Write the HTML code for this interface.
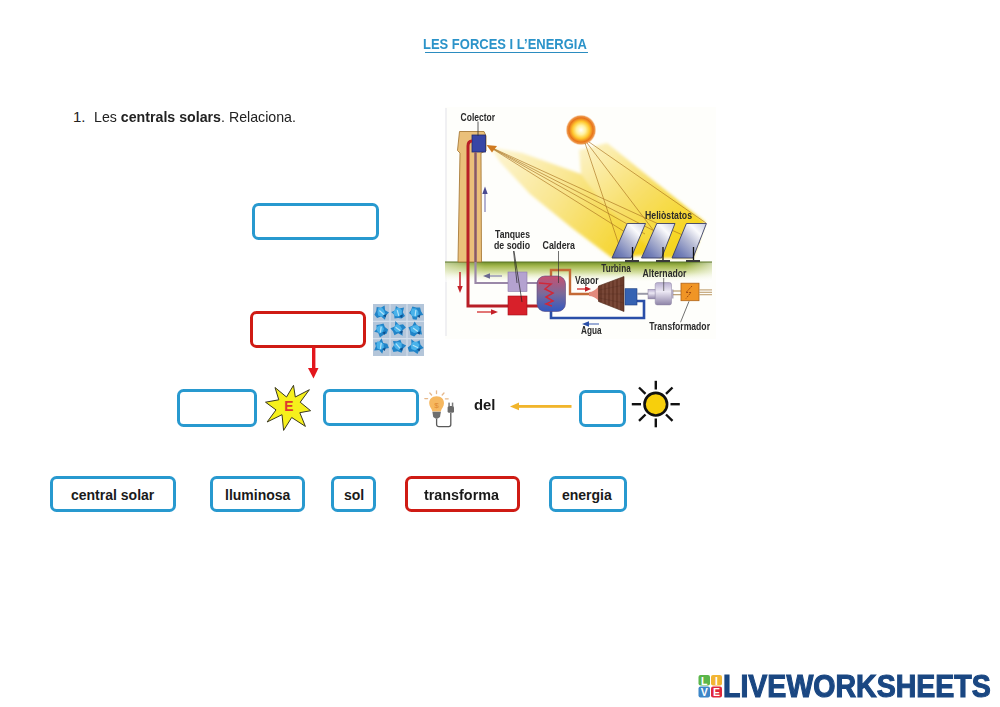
<!DOCTYPE html>
<html><head><meta charset="utf-8">
<style>
html,body{margin:0;padding:0;background:#fff;}
body{width:1000px;height:707px;position:relative;overflow:hidden;font-family:"Liberation Sans",sans-serif;}
.a{position:absolute;}
.bx{position:absolute;box-sizing:border-box;border:3px solid #2899cf;border-radius:6.5px;background:#fff;}
.rd{border-color:#cf1b14;}
.t{position:absolute;white-space:nowrap;transform-origin:0 0;line-height:1;}
.w{font-weight:bold;color:#1a1a1a;}
</style></head>
<body>
<div class="t" id="title" style="left:423px;top:36.2px;font-size:15.5px;font-weight:bold;color:#2b93c9;transform:scaleX(0.838);">LES FORCES I L’ENERGIA</div>
<div class="a" id="ul" style="left:424.5px;top:51.6px;width:163px;height:1.2px;background:#2b8cc0;"></div>
<div class="t" id="l1" style="left:73px;top:109px;font-size:15px;color:#222;">1.</div>
<div class="t" id="l2" style="left:94px;top:109px;font-size:15px;color:#222;transform:scaleX(0.946);">Les <b>centrals solars</b>. Relaciona.</div>

<div class="bx" style="left:252px;top:202.5px;width:126.5px;height:37.5px;"></div>
<div class="bx rd" style="left:250px;top:311px;width:116px;height:37px;"></div>
<div class="bx" style="left:177px;top:389px;width:80px;height:37.5px;"></div>
<div class="bx" style="left:323px;top:389px;width:96px;height:37px;"></div>
<div class="bx" style="left:579px;top:390px;width:47px;height:37px;"></div>

<div class="t w" id="del" style="left:474px;top:398px;font-size:14px;transform:scaleX(1.06);">del</div>

<div class="bx" style="left:50px;top:475.5px;width:126px;height:36px;"></div>
<div class="bx" style="left:210px;top:475.5px;width:95px;height:36px;"></div>
<div class="bx" style="left:331px;top:475.5px;width:45px;height:36px;"></div>
<div class="bx rd" style="left:405px;top:475.5px;width:115px;height:36px;"></div>
<div class="bx" style="left:549px;top:475.5px;width:78px;height:36px;"></div>

<div class="t w" id="w1" style="left:71px;top:488px;font-size:14px;">central solar</div>
<div class="t w" id="w2" style="left:225px;top:488px;font-size:14px;">lluminosa</div>
<div class="t w" id="w3" style="left:344px;top:488px;font-size:14px;">sol</div>
<div class="t w" id="w4" style="left:424px;top:488px;font-size:14px;transform:scaleX(1.025);">transforma</div>
<div class="t w" id="w5" style="left:562px;top:488px;font-size:14px;">energia</div>


<svg class="a" style="left:0;top:0" width="1000" height="707" viewBox="0 0 1000 707">
<defs>
 <linearGradient id="gnd" x1="0" y1="0" x2="0" y2="1">
  <stop offset="0" stop-color="#72902c"/><stop offset="0.2" stop-color="#a4b84e"/><stop offset="0.55" stop-color="#d8e2a8"/><stop offset="1" stop-color="#fcfcf4" stop-opacity="0"/>
 </linearGradient>
 <linearGradient id="gndx" x1="0" y1="0" x2="1" y2="0">
  <stop offset="0" stop-color="#fff" stop-opacity="0.5"/><stop offset="0.15" stop-color="#fff" stop-opacity="0"/><stop offset="0.9" stop-color="#fff" stop-opacity="0"/><stop offset="1" stop-color="#fff" stop-opacity="0.6"/>
 </linearGradient>
 <linearGradient id="cald" x1="0" y1="0" x2="0" y2="1">
  <stop offset="0" stop-color="#c85070"/><stop offset="0.5" stop-color="#7a6a9a"/><stop offset="1" stop-color="#3258c0"/>
 </linearGradient>
 <linearGradient id="mir" x1="1" y1="0" x2="0" y2="1">
  <stop offset="0" stop-color="#c8cce0"/><stop offset="0.25" stop-color="#fafafc"/><stop offset="0.5" stop-color="#b8bcd4"/><stop offset="0.8" stop-color="#7480b8"/><stop offset="1" stop-color="#5866a8"/>
 </linearGradient>
 <linearGradient id="alt" x1="0" y1="0" x2="0" y2="1">
  <stop offset="0" stop-color="#b8aed0"/><stop offset="0.4" stop-color="#ece8f4"/><stop offset="1" stop-color="#8e84a8"/>
 </linearGradient>
 <linearGradient id="beamL" x1="489" y1="148" x2="640" y2="250" gradientUnits="userSpaceOnUse">
  <stop offset="0" stop-color="#fdf6d8"/><stop offset="0.45" stop-color="#f9e690"/><stop offset="1" stop-color="#f5d21e"/>
 </linearGradient>
 <linearGradient id="beamR" x1="590" y1="140" x2="680" y2="240" gradientUnits="userSpaceOnUse">
  <stop offset="0" stop-color="#fcf3c8"/><stop offset="0.5" stop-color="#f8e070"/><stop offset="1" stop-color="#f5d520"/>
 </linearGradient>
 <radialGradient id="sung" cx="0.5" cy="0.5" r="0.5">
  <stop offset="0" stop-color="#ffffff"/><stop offset="0.3" stop-color="#fff2a0"/><stop offset="0.55" stop-color="#ffc830"/><stop offset="0.78" stop-color="#e8741a"/><stop offset="0.9" stop-color="#ee9a50"/><stop offset="1" stop-color="#fbe0c0" stop-opacity="0"/>
 </radialGradient>
 <filter id="bl" x="-10%" y="-10%" width="120%" height="120%"><feGaussianBlur stdDeviation="1.6"/></filter>
 <filter id="bl2"><feGaussianBlur stdDeviation="0.5"/></filter>
</defs>

<g id="diagram">
 <rect x="445" y="107" width="271" height="232" fill="#fefefb"/>
 <line x1="446" y1="108" x2="446" y2="336" stroke="#e2e2ea" stroke-width="1"/>
 <!-- beams -->
 <g filter="url(#bl)">
  <polygon points="490,147 522,153 581,174 596,180 640,212 686,252 612,258 572,228 530,194 500,162" fill="url(#beamL)"/>
  <polygon points="579,150 607,143 705,222 693,258 660,258 600,200 581,174" fill="url(#beamR)"/>
 </g>
 <!-- sun -->
 <circle cx="581" cy="130" r="15.5" fill="url(#sung)"/>
 <!-- ground -->
 <rect x="445" y="262" width="267" height="20" fill="url(#gnd)"/>
 <rect x="445" y="262" width="267" height="20" fill="url(#gndx)"/>
 <line x1="445" y1="262" x2="712" y2="262" stroke="#5a7424" stroke-width="1.2"/>
 <!-- tower -->
 <path d="M459.5,131.5 L484,131.5 L486,136 L486,151 L481,153 L481.5,262 L458,262 L460,153 L457.5,150.5 Z" fill="#eac07a" stroke="#a87a38" stroke-width="0.9"/>
 <rect x="472" y="135" width="13.5" height="17" fill="#3846a6" stroke="#1f2a70" stroke-width="0.8"/>
 <line x1="478" y1="121.5" x2="478" y2="136" stroke="#333" stroke-width="0.8"/>
 <!-- pipes -->
 <path d="M475.5,152 L475.5,283 L538,283" fill="none" stroke="#9a88a8" stroke-width="2.2"/>
 <path d="M475.5,152 L475.5,262" fill="none" stroke="#8a5862" stroke-width="2.2"/>
 <path d="M472,141 Q468,141 468,146 L468,306 L551,306" fill="none" stroke="#b81e26" stroke-width="3"/>
 <path d="M551,277 L551,270 L570,270 L570,294 L590,294" fill="none" stroke="#c46a36" stroke-width="2.4"/>
 <path d="M551,311 L551,318 L644,318 L644,301 L636,301" fill="none" stroke="#2a4fa8" stroke-width="2.6"/>
 <!-- arrows in diagram -->
 <line x1="485" y1="212" x2="485" y2="192" stroke="#8a88b8" stroke-width="1.3"/><polygon points="482.3,194 487.7,194 485,186.5" fill="#4a4a90"/>
 <line x1="460" y1="272" x2="460" y2="288" stroke="#c42028" stroke-width="1.5"/><polygon points="457.3,286 462.7,286 460,293" fill="#c42028"/>
 <line x1="477" y1="312" x2="492" y2="312" stroke="#d84848" stroke-width="1.5"/><polygon points="491,309.3 491,314.7 498,312" fill="#c42028"/>
 <line x1="489" y1="276" x2="502" y2="276" stroke="#9a98b8" stroke-width="1.5"/><polygon points="490,273.3 490,278.7 483,276" fill="#6a6890"/>
 <line x1="577" y1="289" x2="586" y2="289" stroke="#d84848" stroke-width="1.5"/><polygon points="585,286.3 585,291.7 591,289" fill="#c42028"/>
 <line x1="588" y1="324" x2="599" y2="324" stroke="#7a90c8" stroke-width="1.5"/><polygon points="589,321.3 589,326.7 582,324" fill="#2a4fa8"/>
 <!-- tanks -->
 <rect x="508" y="272" width="19" height="19.5" fill="#b4a2d0" stroke="#8a7aa8" stroke-width="0.6"/>
 <rect x="508" y="296" width="19" height="19" fill="#d8202a" stroke="#a01018" stroke-width="0.6"/>
 <line x1="513.5" y1="251" x2="517" y2="283" stroke="#222" stroke-width="0.7"/><line x1="514" y1="251" x2="522" y2="302" stroke="#222" stroke-width="0.7"/>
 <!-- caldera -->
 <rect x="537" y="276" width="28.5" height="35.5" rx="8" fill="url(#cald)" stroke="#5a4a80" stroke-width="0.6"/>
 <path d="M539,283 L551,284 L545,289 L553,293 L546,297 L553,301 L546,304 L552,306" fill="none" stroke="#d02838" stroke-width="1.5"/>
 <line x1="558.5" y1="251" x2="558.5" y2="283" stroke="#333" stroke-width="0.7"/>
 <!-- turbine -->
 <path d="M589,292 Q594,292 599,286 L599,301 Q594,296 589,296 Z" fill="#e28a7c"/>
 <path d="M598.5,286 L624,276.5 L624,311.5 L598.5,301.5 Z" fill="#6a3a2a" stroke="#4a2618" stroke-width="0.6"/>
 <g stroke="#9a6a58" stroke-width="0.6"><line x1="603" y1="284.3" x2="603" y2="303.3"/><line x1="607" y1="282.8" x2="607" y2="304.8"/><line x1="611" y1="281.3" x2="611" y2="306.4"/><line x1="615" y1="279.9" x2="615" y2="308"/><line x1="619" y1="278.4" x2="619" y2="309.5"/></g>
 <g stroke="#4a2a20" stroke-width="0.4" opacity="0.7"><line x1="599" y1="290" x2="624" y2="285"/><line x1="599" y1="294" x2="624" y2="294"/><line x1="599" y1="298" x2="624" y2="303"/></g>
 <rect x="625" y="288.7" width="12" height="16.3" fill="#3562b2" stroke="#1e3f80" stroke-width="0.6"/>
 <line x1="637" y1="293.8" x2="648" y2="293.8" stroke="#9a9aa8" stroke-width="2"/>
 <!-- alternator -->
 <rect x="648" y="289.3" width="8" height="9.6" fill="url(#alt)" stroke="#8a80a0" stroke-width="0.5"/>
 <rect x="655.2" y="282.6" width="16.3" height="22.3" rx="2" fill="url(#alt)" stroke="#8a80a0" stroke-width="0.5"/>
 <rect x="671.5" y="289.5" width="2" height="9" fill="#b0a8c0"/>
 <line x1="663.7" y1="278" x2="663.7" y2="291" stroke="#333" stroke-width="0.6"/>
 <g stroke="#b09060" stroke-width="1.1"><line x1="673" y1="291" x2="681" y2="291"/><line x1="673" y1="294.7" x2="681" y2="294.7"/></g>
 <!-- transformer -->
 <rect x="681" y="283.2" width="18" height="17.5" fill="#f09526" stroke="#b0641a" stroke-width="0.8"/>
 <path d="M692,286 L686,292.5 L691,292.5 L686,298.5" fill="none" stroke="#a04a10" stroke-width="1" stroke-dasharray="2 1"/>
 <g stroke="#c0a070" stroke-width="1.1"><line x1="699" y1="289.9" x2="712" y2="289.9"/><line x1="699" y1="292.3" x2="712" y2="292.3"/><line x1="699" y1="294.7" x2="712" y2="294.7"/></g>
 <line x1="689" y1="301.3" x2="680.5" y2="322.3" stroke="#333" stroke-width="0.7"/>
 <!-- beam lines -->
 <g stroke="#a8701c" stroke-width="0.7" fill="none" opacity="0.9">
  <line x1="488" y1="146" x2="700" y2="243"/><line x1="488" y1="146" x2="670" y2="239"/><line x1="488" y1="146" x2="645" y2="234"/><line x1="488" y1="146" x2="625" y2="232"/>
  <line x1="585" y1="143" x2="619" y2="245"/><line x1="587" y1="143" x2="657" y2="235"/><line x1="589" y1="142" x2="706" y2="223"/>
 </g>
 <polygon points="486.5,145 497,146 492,152.5" fill="#d07a20"/>
 <!-- heliostats -->
 <g stroke="#3a4068" stroke-width="0.9">
  <polygon points="627.2,223.5 645.5,223.5 631,258 612,258" fill="url(#mir)"/>
  <polygon points="656.8,223.5 675,223.5 661.6,258 641.5,258" fill="url(#mir)"/>
  <polygon points="686.4,223.5 706.4,223.5 693,258 672,258" fill="url(#mir)"/>
 </g>
 <g stroke="#111" stroke-width="1.3"><line x1="632.5" y1="247" x2="632.5" y2="261"/><line x1="663" y1="247" x2="663" y2="261"/><line x1="693.5" y1="247" x2="693.5" y2="261"/></g>
 <g fill="#3a3a3a"><rect x="625" y="260" width="14" height="2"/><rect x="656" y="260" width="14" height="2"/><rect x="686" y="260" width="14" height="2"/></g>
 <!-- labels -->
 <g font-family="Liberation Sans" font-weight="bold" fill="#2a2a2a" font-size="10.3" lengthAdjust="spacingAndGlyphs" filter="url(#bl2)">
  <text x="460.6" y="121" textLength="34.4" lengthAdjust="spacingAndGlyphs">Colector</text>
  <text x="645" y="219" textLength="47" lengthAdjust="spacingAndGlyphs">Heliòstatos</text>
  <text x="495" y="238" textLength="35" lengthAdjust="spacingAndGlyphs">Tanques</text>
  <text x="494" y="249" textLength="36" lengthAdjust="spacingAndGlyphs">de sodio</text>
  <text x="542.5" y="249" textLength="32.5" lengthAdjust="spacingAndGlyphs">Caldera</text>
  <text x="601.3" y="272.4" textLength="29.4" lengthAdjust="spacingAndGlyphs">Turbina</text>
  <text x="642.6" y="276.8" textLength="43.9" lengthAdjust="spacingAndGlyphs">Alternador</text>
  <text x="575" y="284" textLength="23.5" lengthAdjust="spacingAndGlyphs">Vapor</text>
  <text x="581" y="334" textLength="20.5" lengthAdjust="spacingAndGlyphs">Agua</text>
  <text x="649.2" y="330.3" textLength="60.8" lengthAdjust="spacingAndGlyphs">Transformador</text>
 </g>
</g>
</svg>



<svg class="a" style="left:0;top:0" width="1000" height="707" viewBox="0 0 1000 707">
 <!-- red arrow down -->
 <rect x="312" y="347" width="3.4" height="22" fill="#e3161c"/>
 <polygon points="308,368 318.5,368 313.5,378.5" fill="#e3161c"/>
 <!-- yellow arrow left -->
 <rect x="516" y="405" width="55.5" height="2.8" fill="#f1b52b"/>
 <polygon points="510,406.4 519,402.5 519,410.3" fill="#f1b52b"/>
 <!-- star E -->
 <polygon points="293.5,385.3 295.3,397 309.4,389.7 300.2,402.2 310.6,410.7 299.8,412.7 305.4,426.4 291.7,417.5 283.6,430.4 282,414.7 267.1,422 276,409.9 265.5,402.2 278.8,399.8 275,387.5 286.5,397" fill="#f6f01c" stroke="#3a3820" stroke-width="1" stroke-linejoin="miter"/>
 <text x="0" y="0" transform="translate(288.9 410.6) scale(0.92 1)" font-family="Liberation Sans" font-weight="bold" font-size="15" fill="#dc3a2e" text-anchor="middle">E</text>
 <!-- sun icon -->
 <g stroke="#111" stroke-width="2.4" stroke-linecap="butt">
  <line x1="655.8" y1="380.8" x2="655.8" y2="389.5"/><line x1="655.8" y1="418.5" x2="655.8" y2="427.3"/>
  <line x1="631.8" y1="404.2" x2="641" y2="404.2"/><line x1="670.5" y1="404.2" x2="679.8" y2="404.2"/>
  <line x1="639" y1="387.5" x2="645.5" y2="393.8"/><line x1="666" y1="414.5" x2="672.5" y2="420.8"/>
  <line x1="672.5" y1="387.5" x2="666" y2="393.8"/><line x1="645.5" y1="414.5" x2="639" y2="420.8"/>
 </g>
 <circle cx="655.8" cy="404.2" r="11.3" fill="#f7cf0c" stroke="#111" stroke-width="2.6"/>
 <!-- bulb -->
 <g stroke="#dc9a5a" stroke-width="1.3" stroke-linecap="round" opacity="0.7">
  <line x1="436.5" y1="390.8" x2="436.5" y2="393.5"/><line x1="429.8" y1="393" x2="431.6" y2="395"/><line x1="444" y1="393" x2="442.2" y2="395"/>
  <line x1="424.8" y1="398.6" x2="427.6" y2="398.6"/><line x1="445.4" y1="398.8" x2="448.2" y2="398.8"/>
 </g>
 <path d="M436.6,396.3 C441.5,396.3 444,399.5 444,403.3 C444,406.5 441.5,408.5 440.8,411.5 L432.4,411.5 C431.7,408.5 429.2,406.5 429.2,403.3 C429.2,399.5 431.7,396.3 436.6,396.3 Z" fill="#f6b860"/>
 <text x="436.6" y="407.5" font-family="Liberation Sans" font-size="8" fill="#e08a30" text-anchor="middle">$</text>
 <path d="M432.4,411.8 L440.9,411.8 L440,417 L437.8,418.6 L435.4,418.6 L433.2,417 Z" fill="#6e6e6e"/>
 <path d="M436.6,418.6 L436.6,424.5 Q436.8,426.6 439,426.6 L448.8,426.6 Q450.8,426.5 450.8,424.5 L450.8,413" fill="none" stroke="#5a5a5a" stroke-width="1.3"/>
 <rect x="447.6" y="406" width="6.4" height="6.8" rx="1.5" fill="#6a6a6a"/>
 <rect x="448.3" y="402.6" width="1.5" height="4" fill="#7a7a7a"/><rect x="451.8" y="402.6" width="1.5" height="4" fill="#7a7a7a"/>
 <!-- ice grid -->
 <defs><filter id="blIce" x="-5%" y="-5%" width="110%" height="110%"><feGaussianBlur stdDeviation="0.6"/></filter></defs>
<g id="ice" filter="url(#blIce)">
<rect x="373" y="304" width="51" height="52" fill="#b4c6da"/>
<g stroke="#d8e2ee" stroke-width="1.2" opacity="0.9"><line x1="390" y1="304" x2="390" y2="356"/><line x1="407" y1="304" x2="407" y2="356"/><line x1="373" y1="321.3" x2="424" y2="321.3"/><line x1="373" y1="338.6" x2="424" y2="338.6"/></g>
<polygon points="374.4,314.7 376.2,311.0 376.7,307.0 380.8,307.7 384.6,305.6 385.1,310.2 389.0,312.4 385.9,315.2 385.0,319.7 381.1,316.5 377.1,317.9" fill="#2084c8"/>
<polygon points="377.5,311.9 378.1,308.2 382.0,307.5 384.1,310.4 385.5,314.1 382.1,316.7 378.2,315.4" fill="#48b2ea"/>
<line x1="383.8" y1="314.5" x2="379.4" y2="310.5" stroke="#d8f4ff" stroke-width="1.2" opacity="0.75"/>
<path d="M383.1,315.5 l3.5,-1.5 l-1,3.5 z" fill="#0d4f8e"/>
<polygon points="401.5,318.4 398.1,317.9 394.5,318.5 394.2,314.8 391.2,312.1 395.1,310.5 395.9,306.0 399.3,308.5 404.1,307.6 402.8,312.3 405.0,316.1" fill="#2084c8"/>
<polygon points="398.6,316.4 394.8,316.0 393.3,312.6 394.8,309.5 398.2,307.5 401.8,310.0 401.8,314.2" fill="#48b2ea"/>
<line x1="398.8" y1="315.9" x2="397.2" y2="310.1" stroke="#d8f4ff" stroke-width="1.2" opacity="0.75"/>
<path d="M399.5,316.0 l3.5,-1.5 l-1,3.5 z" fill="#0d4f8e"/>
<polygon points="412.8,319.3 411.9,315.4 409.0,313.1 411.0,310.2 412.4,306.5 416.2,307.5 420.1,307.5 421.0,311.3 423.3,315.1 418.0,315.8 416.6,319.7" fill="#2084c8"/>
<polygon points="411.7,316.1 410.8,312.3 411.9,308.4 415.9,308.5 418.1,311.0 418.8,314.5 415.8,317.0" fill="#48b2ea"/>
<line x1="415.9" y1="310.0" x2="415.1" y2="316.0" stroke="#d8f4ff" stroke-width="1.2" opacity="0.75"/>
<path d="M417.0,316.0 l3.5,-1.5 l-1,3.5 z" fill="#0d4f8e"/>
<polygon points="386.8,333.4 383.3,334.9 379.9,337.6 378.2,332.8 374.2,331.8 376.9,328.7 376.4,324.9 379.9,324.4 383.5,323.5 384.9,326.9 388.1,329.5" fill="#2084c8"/>
<polygon points="382.7,331.9 379.4,333.6 377.0,330.8 376.1,327.4 379.2,325.6 382.6,325.8 383.9,328.9" fill="#48b2ea"/>
<line x1="381.2" y1="326.7" x2="380.4" y2="332.7" stroke="#d8f4ff" stroke-width="1.2" opacity="0.75"/>
<path d="M382.3,332.7 l3.5,-1.5 l-1,3.5 z" fill="#0d4f8e"/>
<polygon points="405.9,327.5 402.1,330.7 402.7,335.7 398.2,333.2 394.4,335.2 393.1,331.5 390.4,328.2 394.9,326.5 395.3,321.1 399.0,324.9 403.0,324.3" fill="#2084c8"/>
<polygon points="402.0,328.9 399.5,331.7 396.1,332.1 394.1,329.6 394.4,326.5 396.9,324.1 400.1,325.7" fill="#48b2ea"/>
<line x1="400.4" y1="330.8" x2="395.6" y2="327.2" stroke="#d8f4ff" stroke-width="1.2" opacity="0.75"/>
<path d="M399.5,332.0 l3.5,-1.5 l-1,3.5 z" fill="#0d4f8e"/>
<polygon points="410.4,335.0 409.9,331.0 408.5,327.3 412.4,325.8 414.7,321.6 417.4,326.0 421.3,326.4 421.1,330.0 422.0,334.4 417.1,333.7 414.2,336.4" fill="#2084c8"/>
<polygon points="410.9,331.3 410.4,327.2 413.9,325.5 417.7,325.1 419.7,328.8 417.8,332.3 414.2,333.1" fill="#48b2ea"/>
<line x1="413.1" y1="327.9" x2="417.9" y2="331.5" stroke="#d8f4ff" stroke-width="1.2" opacity="0.75"/>
<path d="M417.0,332.7 l3.5,-1.5 l-1,3.5 z" fill="#0d4f8e"/>
<polygon points="388.9,348.0 383.7,349.1 382.2,353.7 379.2,350.0 374.2,350.6 375.8,346.2 374.8,342.5 378.9,342.3 381.6,338.2 383.2,342.9 387.3,343.8" fill="#2084c8"/>
<polygon points="383.9,347.6 380.8,350.1 377.2,348.6 376.4,345.0 377.5,341.3 381.4,341.9 383.4,344.2" fill="#48b2ea"/>
<line x1="381.2" y1="343.0" x2="380.4" y2="349.0" stroke="#d8f4ff" stroke-width="1.2" opacity="0.75"/>
<path d="M382.3,349.0 l3.5,-1.5 l-1,3.5 z" fill="#0d4f8e"/>
<polygon points="391.9,348.2 394.0,345.1 393.0,340.9 397.0,341.2 400.4,339.8 401.7,343.3 406.2,345.5 403.0,348.8 401.6,352.8 397.6,351.2 393.4,352.0" fill="#2084c8"/>
<polygon points="393.8,345.6 395.1,342.8 398.0,342.0 401.7,343.1 401.6,347.2 398.7,350.2 395.4,348.2" fill="#48b2ea"/>
<line x1="400.0" y1="348.3" x2="396.0" y2="343.7" stroke="#d8f4ff" stroke-width="1.2" opacity="0.75"/>
<path d="M399.5,349.0 l3.5,-1.5 l-1,3.5 z" fill="#0d4f8e"/>
<polygon points="407.7,347.4 411.5,344.5 411.2,339.3 415.6,342.6 419.7,340.3 420.4,344.5 423.6,347.9 419.4,350.1 417.5,354.1 413.8,351.6 409.1,351.7" fill="#2084c8"/>
<polygon points="411.0,345.2 412.8,341.9 416.8,341.5 419.5,344.7 418.2,348.3 415.1,350.6 411.3,349.0" fill="#48b2ea"/>
<line x1="418.2" y1="347.8" x2="412.8" y2="345.2" stroke="#d8f4ff" stroke-width="1.2" opacity="0.75"/>
<path d="M417.0,349.5 l3.5,-1.5 l-1,3.5 z" fill="#0d4f8e"/>
</g>
 <!-- logo -->
 <g font-family="Liberation Sans" font-weight="bold" font-size="10.5" fill="#fff" text-anchor="middle">
  <rect x="698.5" y="675" width="11.5" height="10.5" rx="2" fill="#5bb64a"/><text x="704.2" y="684.5">L</text>
  <rect x="711" y="675" width="11" height="10.5" rx="2" fill="#f2b533"/><text x="716.5" y="684.5">I</text>
  <rect x="698.5" y="686.5" width="11.5" height="11" rx="2" fill="#3d86c8"/><text x="704.2" y="696">V</text>
  <rect x="711" y="686.5" width="11" height="11" rx="2" fill="#e0283a"/><text x="716.5" y="696">E</text>
 </g>
</svg>
<div class="t" id="logo" style="left:723px;top:671px;font-size:31px;transform:scaleX(0.92);font-weight:bold;color:#1a4782;-webkit-text-stroke:1.1px #1a4782;">LIVEWORKSHEETS</div>

</body></html>
